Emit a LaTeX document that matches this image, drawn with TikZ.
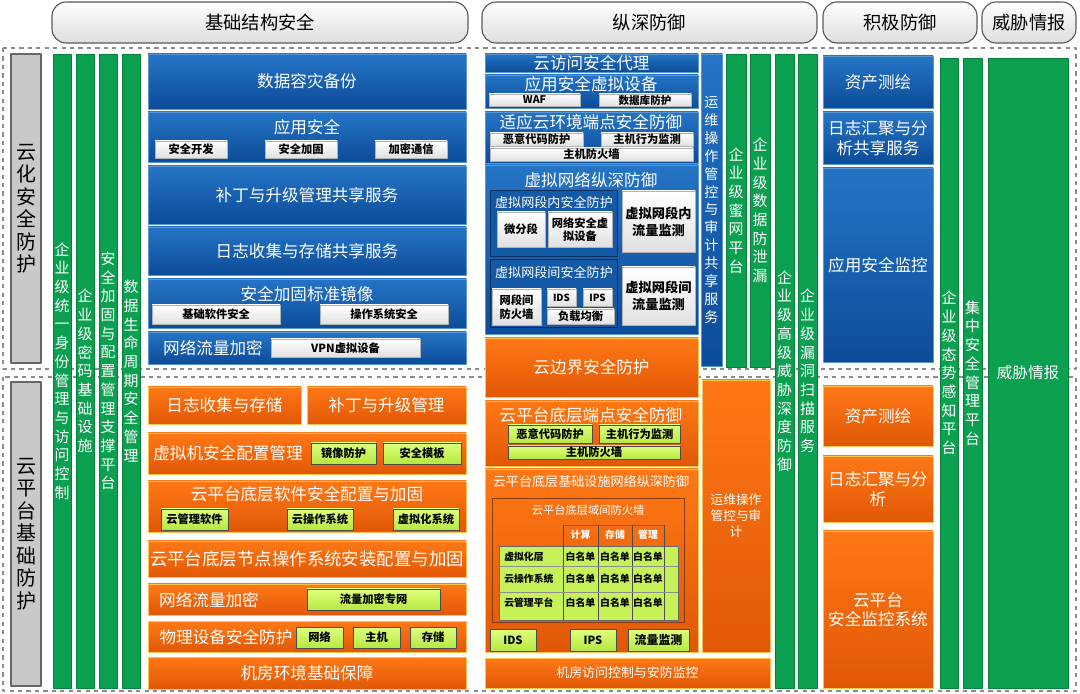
\documentclass[tikz,border=0pt]{standalone}
\usepackage{fontspec}
\setmainfont{Noto Sans CJK SC}
\XeTeXlinebreaklocale "zh"
\XeTeXlinebreakskip=0pt plus 1pt
\parindent=0pt
\usetikzlibrary{calc}

\definecolor{bluetop}{HTML}{2574C6}
\definecolor{bluebot}{HTML}{0C4C98}
\definecolor{blueedge}{HTML}{5A96D2}
\definecolor{bluedeep}{HTML}{1459A6}
\definecolor{orgtop}{HTML}{FF7816}
\definecolor{orgbot}{HTML}{E05806}
\definecolor{orgedge}{HTML}{FFC24E}
\definecolor{orgdark}{HTML}{8A3A10}
\definecolor{grn}{HTML}{0BA04F}
\definecolor{grnedge}{HTML}{07803C}
\definecolor{limetop}{HTML}{DEFF7C}
\definecolor{limebot}{HTML}{B6E842}
\definecolor{sidegray}{HTML}{C9C9C9}

\begin{document}
\begin{tikzpicture}[x=0.025cm,y=-0.025cm,line join=round,
  hdr/.style={draw=black!65,thick,rounded corners=10pt,top color=white,bottom color=black!13,inner sep=0pt,font=\fontsize{13}{15}\selectfont},
  bluebox/.style={draw=blueedge,top color=bluetop,bottom color=bluebot,text=white,inner sep=0pt,font=\fontsize{11.8}{14}\selectfont},
  orgbox/.style={draw=orgedge,top color=orgtop,bottom color=orgbot,text=white,inner sep=0pt,font=\fontsize{11.8}{14}\selectfont},
  bluepanel/.style={draw=bluebot!60!black,fill=bluedeep,inner sep=0pt},
  grnbar/.style={draw=grnedge,fill=grn,text=white,inner sep=0pt,text width=11pt,align=center,font=\fontsize{10.6}{13.3}\selectfont},
  sidebox/.style={draw=black!60,thick,fill=sidegray,inner sep=0pt,text width=15pt,align=center,font=\fontsize{14.2}{16}\selectfont},
  whitesub/.style={draw=black!30,top color=white,bottom color=black!12,inner sep=0pt,align=center,font=\fontsize{8}{9.5}\selectfont\bfseries},
  limesub/.style={draw=black!70,top color=limetop,bottom color=limebot,inner sep=0pt,align=center,font=\fontsize{8}{9.5}\selectfont\bfseries},
  wtitle/.style={text=white,inner sep=0pt,font=\fontsize{11.8}{14}\selectfont},
  cell/.style={inner sep=0pt,font=\fontsize{7}{8}\selectfont\bfseries},
]

% boîte par coins : style, nom, x1, y1, x2, y2, texte
\def\pbox#1#2#3#4#5#6#7{%
  \node[#1,minimum width={(#5-#3)*0.025cm},minimum height={(#6-#4)*0.025cm}]
    (#2) at ({(#3+#5)/2},{(#4+#6)/2}) {#7};}

\useasboundingbox (0,0) rectangle (1080,694);

% -----------------------
% En-têtes
% -----------------------
\pbox{hdr}{h-base}{52}{2}{468}{43}{基础结构安全}
\pbox{hdr}{h-deep}{482}{2}{817}{43}{纵深防御}
\pbox{hdr}{h-active}{823}{2}{977}{43}{积极防御}
\pbox{hdr}{h-intel}{982}{2}{1076}{43}{威胁情报}

% -----------------------
% Zones en pointillés
% -----------------------
\draw[dashed,black!45,thick] (3,48) rectangle (1076,369);
\draw[dashed,black!45,thick] (3,377) rectangle (1076,691);

% Bandeaux gris à gauche
\pbox{sidebox}{s-cloud}{11}{54}{41}{363}{云化安全防护}
\pbox{sidebox}{s-plat}{11}{382}{41}{686}{云平台基础防护}

% -----------------------
% Colonnes vertes (gauche)
% -----------------------
\pbox{grnbar}{g-id}{53}{54}{71}{688}{企业级统一身份管理与访问控制}
\pbox{grnbar}{g-crypto}{76}{54}{94}{688}{企业级密码基础设施}
\pbox{grnbar}{g-harden}{99}{54}{117}{688}{安全加固与配置管理支撑平台}
\pbox{grnbar}{g-life}{122}{54}{140}{688}{数据生命周期安全管理}

% -----------------------
% Base : partie haute (bleu)
% -----------------------
\pbox{bluebox}{b-backup}{148}{54}{466}{109}{数据容灾备份}
\pbox{bluebox}{b-app}{148}{112}{466}{162}{}
\node[wtitle] (t-app) at (307,127) {应用安全};
\pbox{whitesub}{b-dev}{155}{141}{227}{158}{安全开发}
\pbox{whitesub}{b-hard}{265}{141}{337}{158}{安全加固}
\pbox{whitesub}{b-enc}{375}{141}{447}{158}{加密通信}
\pbox{bluebox}{b-patch}{148}{166}{466}{224}{补丁与升级管理共享服务}
\pbox{bluebox}{b-log}{148}{227}{466}{275}{日志收集与存储共享服务}
\pbox{bluebox}{b-img}{148}{279}{466}{328}{}
\node[wtitle] (t-img) at (307,294) {安全加固标准镜像};
\pbox{whitesub}{b-soft}{152}{305}{280}{324}{基础软件安全}
\pbox{whitesub}{b-os}{320}{305}{448}{324}{操作系统安全}
\pbox{bluebox}{b-net}{148}{332}{466}{364}{}
\node[wtitle] (t-net) at (213,348) {网络流量加密};
\pbox{whitesub}{b-vpn}{271}{339}{420}{357}{VPN虚拟设备}

% -----------------------
% Base : partie basse (orange)
% -----------------------
\pbox{orgbox}{o-log}{148}{387}{301}{424}{日志收集与存储}
\pbox{orgbox}{o-patch}{307}{387}{466}{424}{补丁与升级管理}
\pbox{orgbox}{o-vm}{148}{433}{466}{474}{}
\node[wtitle] (t-vm) at (228,453) {虚拟机安全配置管理};
\pbox{limesub}{o-mirror}{311}{443}{376}{464}{镜像防护}
\pbox{limesub}{o-tpl}{383}{443}{461}{464}{安全模板}
\pbox{orgbox}{o-soft}{148}{481}{466}{532}{}
\node[wtitle] (t-soft) at (307,494) {云平台底层软件安全配置与加固};
\pbox{limesub}{o-mgmt}{161}{509}{228}{530}{云管理软件}
\pbox{limesub}{o-cos}{287}{509}{353}{530}{云操作系统}
\pbox{limesub}{o-virt}{393}{509}{459}{530}{虚拟化系统}
\pbox{orgbox,font=\fontsize{12.4}{14}\selectfont}{o-node}{148}{541}{466}{577}{云平台底层节点操作系统安装配置与加固}
\pbox{orgbox}{o-net}{148}{584}{466}{615}{}
\node[wtitle] (t-onet) at (209,600) {网络流量加密};
\pbox{limesub}{o-vpn}{307}{589}{440}{610}{流量加密专网}
\pbox{orgbox}{o-phys}{148}{621}{466}{652}{}
\node[wtitle] (t-phys) at (226,637) {物理设备安全防护};
\pbox{limesub}{o-nw}{296}{627}{343}{648}{网络}
\pbox{limesub}{o-host}{353}{627}{400}{648}{主机}
\pbox{limesub}{o-stor}{410}{627}{456}{648}{存储}
\pbox{orgbox}{o-room}{148}{657}{466}{689}{机房环境基础保障}

% -----------------------
% 纵深防御 : haut (bleu)
% -----------------------
\pbox{bluebox}{m-casb}{485}{54}{698}{72}{云访问安全代理}
\pbox{bluebox}{m-appv}{485}{75}{698}{108}{}
\node[wtitle] (t-appv) at (591,84) {应用安全虚拟设备};
\pbox{whitesub,font=\fontsize{7.5}{9}\selectfont\bfseries}{m-waf}{489}{94}{580}{106}{WAF}
\pbox{whitesub,font=\fontsize{7.5}{9}\selectfont\bfseries}{m-db}{599}{94}{691}{106}{数据库防护}
\pbox{bluebox}{m-ep}{485}{112}{698}{163}{}
\node[wtitle] (t-ep) at (591,122) {适应云环境端点安全防御};
\pbox{whitesub}{m-mal}{490}{133}{583}{146}{恶意代码防护}
\pbox{whitesub}{m-beh}{601}{133}{693}{146}{主机行为监测}
\pbox{whitesub}{m-hfw}{490}{148}{693}{161}{主机防火墙}
\pbox{bluebox}{m-vnet}{485}{165}{698}{334}{}
\node[wtitle] (t-vnet) at (591,180) {虚拟网络纵深防御};
\pbox{bluepanel}{p-in}{490}{190}{617}{256}{}
\node[wtitle,font=\fontsize{9.3}{11}\selectfont] (t-in) at (554,202) {虚拟网段内安全防护};
\pbox{whitesub}{p-micro}{497}{212}{545}{247}{微分段}
\pbox{whitesub}{p-nsv}{548}{212}{612}{247}{网络安全虚\\拟设备}
\pbox{whitesub,font=\fontsize{9.4}{12}\selectfont\bfseries}{p-mon1}{622}{191}{695}{252}{虚拟网段内\\流量监测}
\pbox{bluepanel}{p-out}{490}{259}{617}{327}{}
\node[wtitle,font=\fontsize{9.3}{11}\selectfont] (t-out) at (554,272) {虚拟网段间安全防护};
\pbox{whitesub}{p-sfw}{492}{289}{541}{325}{网段间\\防火墙}
\pbox{whitesub,font=\fontsize{7}{8}\selectfont\bfseries}{p-ids}{547}{289}{576}{306}{IDS}
\pbox{whitesub,font=\fontsize{7}{8}\selectfont\bfseries}{p-ips}{583}{289}{612}{306}{IPS}
\pbox{whitesub}{p-lb}{547}{309}{614}{324}{负载均衡}
\pbox{whitesub,font=\fontsize{9.4}{12}\selectfont\bfseries}{p-mon2}{622}{267}{695}{325}{虚拟网段间\\流量监测}
\pbox{bluebox,text width=11pt,align=center,font=\fontsize{10}{12.7}\selectfont}{m-ops}{701}{54}{722}{366}{运维操作管控与审计共享服务}

% Colonnes vertes (milieu)
\pbox{grnbar}{g-honey}{726}{54}{746}{367}{企业级蜜网平台}
\pbox{grnbar}{g-dlp}{750}{54}{770}{367}{企业级数据防泄漏}
\pbox{grnbar}{g-apt}{775}{54}{794}{688}{企业级高级威胁深度防御}
\pbox{grnbar}{g-vuln}{798}{54}{817}{688}{企业级漏洞扫描服务}

% -----------------------
% 纵深防御 : bas (orange)
% -----------------------
\pbox{orgbox}{n-edge}{485}{338}{698}{397}{云边界安全防护}
\pbox{orgbox}{n-ep}{485}{401}{698}{466}{}
\node[wtitle] (t-nep) at (591,415) {云平台底层端点安全防御};
\pbox{limesub}{n-mal}{508}{425}{592}{443}{恶意代码防护}
\pbox{limesub}{n-beh}{599}{425}{680}{443}{主机行为监测}
\pbox{limesub}{n-hfw}{508}{446}{680}{459}{主机防火墙}
\pbox{orgbox}{n-infra}{485}{469}{698}{652}{}
\node[wtitle,font=\fontsize{9.3}{11}\selectfont] (t-infra) at (591,482) {云平台底层基础设施网络纵深防御};
\pbox{draw=orgdark,inner sep=0pt}{n-fw}{492}{498}{684}{622}{}
\node[wtitle,font=\fontsize{8}{10}\selectfont] (t-fw) at (588,510) {云平台底层域间防火墙};

% Tableau des listes blanches
\fill[limebot!60!limetop] (499,546) rectangle (678,620);
\draw[black!60] (499,546) rectangle (678,620);
\draw[black!60] (563,525) -- (664,525);
\foreach \cx in {563,598,632,664}
  \draw[black!70] (\cx,525) -- (\cx,620);
\draw[black!45] (499,566) -- (678,566) (499,592) -- (678,592);
\node[cell,text=white] (c-calc) at (580.5,535) {计算};
\node[cell,text=white] (c-stor) at (615,535) {存储};
\node[cell,text=white] (c-mgmt) at (648,535) {管理};
\node[cell,anchor=west] (r-virt) at (504,557) {虚拟化层};
\node[cell,anchor=west] (r-cos) at (504,579) {云操作系统};
\node[cell,anchor=west] (r-cmp) at (504,603) {云管理平台};
\foreach \ry [count=\i] in {557,579,603}
  \foreach \cx [count=\j] in {580.5,615,648}
    \node[cell] (wl-\i-\j) at (\cx,\ry) {白名单};

\pbox{limesub}{n-ids}{490}{629}{536}{651}{IDS}
\pbox{limesub}{n-ips}{570}{629}{616}{651}{IPS}
\pbox{limesub,font=\fontsize{8.5}{10}\selectfont\bfseries}{n-flow}{628}{629}{689}{651}{流量监测}
\pbox{orgbox,align=center,font=\fontsize{9}{11.4}\selectfont}{n-ops}{702}{380}{770}{652}{运维操作\\管控与审\\计}
\pbox{orgbox,font=\fontsize{9.2}{11}\selectfont}{n-room}{485}{658}{770}{688}{机房访问控制与安防监控}

% -----------------------
% 积极防御
% -----------------------
\pbox{bluebox}{r-asset}{823}{56}{933}{108}{资产测绘}
\pbox{bluebox,align=center}{r-log}{823}{112}{933}{164}{日志汇聚与分\\析共享服务}
\pbox{bluebox}{r-appmon}{823}{168}{933}{362}{应用安全监控}
\pbox{orgbox}{r-asset2}{823}{386}{933}{446}{资产测绘}
\pbox{orgbox,align=center}{r-log2}{823}{456}{933}{522}{日志汇聚与分\\析}
\pbox{orgbox,align=center}{r-mon}{823}{531}{933}{688}{云平台\\安全监控系统}

% Colonnes vertes (droite)
\pbox{grnbar}{g-sa}{940}{58}{958}{688}{企业级态势感知平台}
\pbox{grnbar}{g-csm}{963}{58}{982}{688}{集中安全管理平台}
\pbox{grnbar,text width=48pt,font=\fontsize{11}{13}\selectfont}{g-intel}{988}{58}{1068}{688}{威胁情报}

\end{tikzpicture}
\end{document}
